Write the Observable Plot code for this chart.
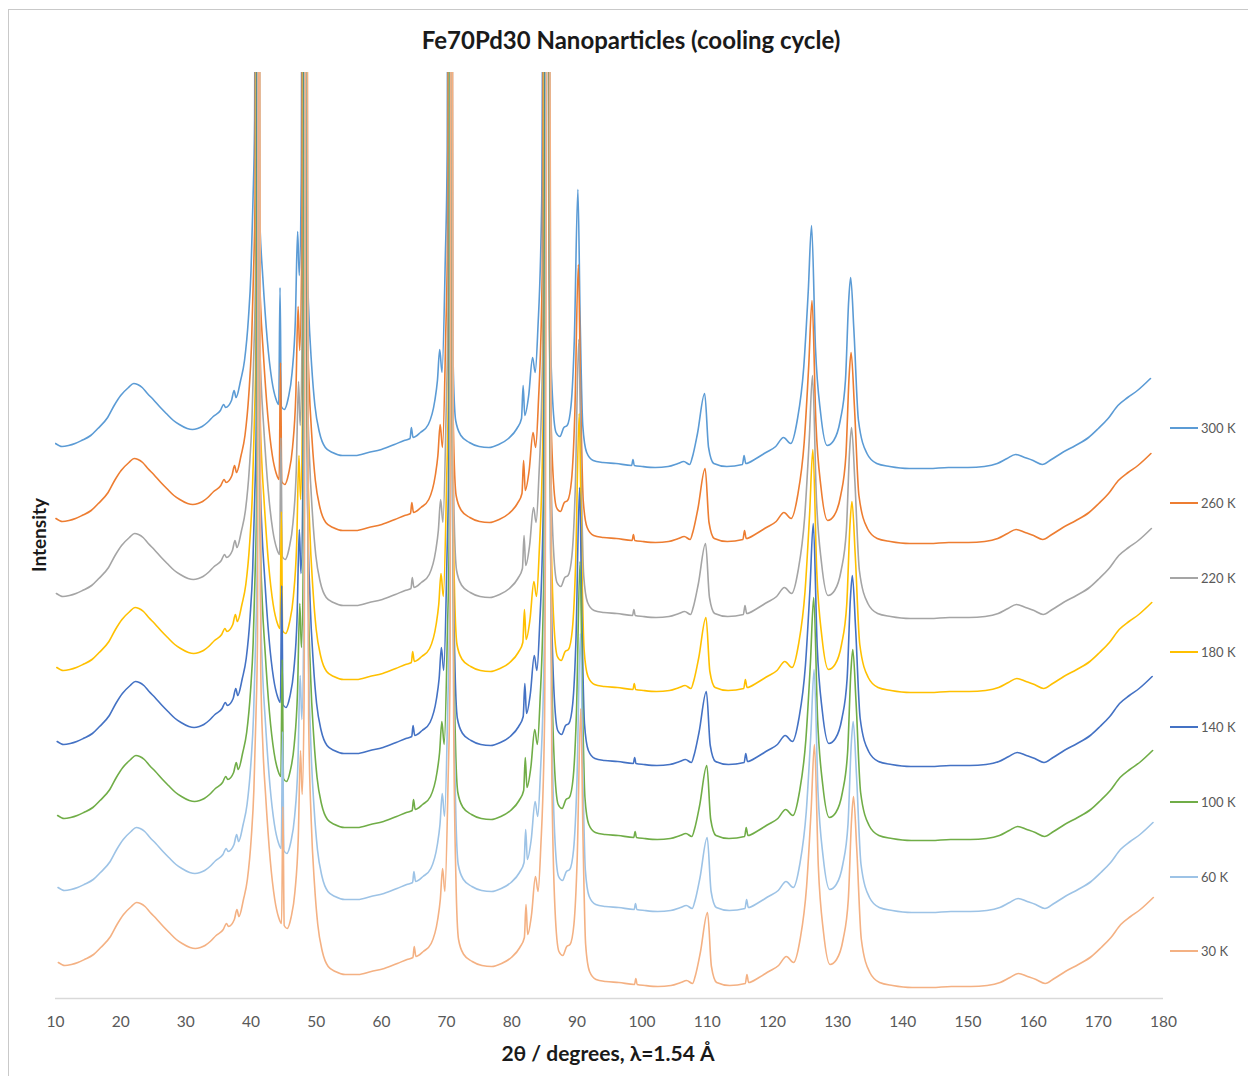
<!DOCTYPE html>
<html>
<head>
<meta charset="utf-8">
<script src="https://cdn.jsdelivr.net/npm/d3@7"></script>
<script src="https://cdn.jsdelivr.net/npm/@observablehq/plot@0.6"></script>
<style>
  html, body { margin: 0; padding: 0; background: #fff; }
  #wrap { position: relative; width: 1248px; height: 1076px; overflow: hidden; font-family: Lato, "Open Sans", sans-serif; }
  #frame { position: absolute; left: 8px; top: 9px; width: 1260px; height: 1100px; border-left: 1px solid #c9c9c9; border-top: 1px solid #c9c9c9; box-sizing: border-box; }
  #chart { position: absolute; left: 0; top: 0; }
  .lbl { position: absolute; transform: translate(-50%, -50%); white-space: nowrap; color: #1a1a1a; font-weight: 700; }
  #title { left: 631px; top: 39px; font-size: 24px; }
  #xtitle { left: 608px; top: 1052px; font-size: 21px; }
  #ytitle { left: 38px; top: 535px; font-size: 19px; transform: translate(-50%, -50%) rotate(-90deg); }
  .leg { position: absolute; left: 1170px; height: 16px; transform: translateY(-50%); display: flex; align-items: center; font-size: 13px; color: #595959; }
  .leg span.sw { display: inline-block; width: 28px; height: 2px; margin-right: 3px; }
</style>
</head>
<body>
<div id="wrap">
  <div id="frame"></div>
  <div id="chart"></div>
  <div id="title" class="lbl">Fe70Pd30 Nanoparticles (cooling cycle)</div>
  <div id="xtitle" class="lbl">2θ / degrees, λ=1.54 Å</div>
  <div id="ytitle" class="lbl">Intensity</div>
  <div id="legend"></div>
</div>
<script>
// Diffraction angle (2θ, degrees) sampled along the pattern
const twoTheta = [
  10, 11, 12, 13, 14, 15.4, 16.5, 18, 19, 20, 21.2, 22, 22.6, 23.3, 24.1, 25, 26.1, 27, 28.1, 29,
  30.2, 31, 31.8, 32.5, 33.3, 34.2, 35.3, 35.8, 36.1, 37, 37.4, 37.7, 38.4, 39, 39.6, 40.0, 40.3, 40.55, 40.8, 41.05,
  41.4, 41.8, 42.5, 43.2, 43.8, 44.25, 44.45, 44.65, 45.1, 45.7, 46.3, 46.8, 47.15, 47.4, 47.7, 48.05, 48.4, 48.8, 49.3, 49.8,
  50.5, 51.4, 52.5, 54, 56, 58, 60, 62, 63.5, 64.4, 64.6, 64.85, 66, 67.2, 68.2, 68.6, 68.95, 69.3, 69.8, 70.1,
  70.35, 70.65, 71.0, 71.4, 72.2, 73.5, 75, 76.5, 78, 79.5, 80.8, 81.5, 81.75, 82.0, 82.6, 83.2, 83.6, 84.0, 84.6, 85.2,
  85.7, 86.2, 86.8, 87.4, 88.0, 88.5, 89.1, 89.6, 90.15, 90.5, 90.9, 91.5, 92.5, 94, 96, 98.4, 98.6, 98.8, 100, 102,
  104, 105.5, 106.4, 107.3, 107.7, 108.5, 109.6, 110.2, 111, 113, 115.4, 115.65, 115.9, 117.5, 119, 120.5, 121.7, 122.8, 123.8, 124.8,
  125.5, 126.0, 126.6, 127.4, 128.4, 129.4, 130.4, 131.2, 131.7, 132.0, 132.5, 133.2, 134.5, 136, 138, 141, 144, 147, 150, 152.5,
  154.5, 156, 157.3, 158.7, 160, 161.4, 162.8, 164.5, 166.5, 168.5, 170, 171.5, 173, 174.5, 176, 178
];
// Intensity profile (a.u., lowest trace); main reflections run off scale
const profile = [
  36, 33, 34, 36, 39, 44, 51, 62, 74, 84, 92, 96, 95, 92, 86, 80, 72, 66, 59, 55,
  51, 50, 51, 53, 57, 63, 69, 75, 72, 79, 89, 82, 99, 119, 161, 209, 279, 359, 1500, 329,
  249, 203, 139, 99, 81, 75, 192, 73, 70, 81, 107, 159, 248, 204, 299, 1500, 279, 177, 114, 74,
  47, 32, 27, 24, 24, 27, 30, 35, 39, 41, 52, 42, 47, 55, 79, 99, 130, 107, 219, 329,
  1500, 279, 119, 59, 44, 37, 33, 32, 35, 41, 51, 61, 94, 64, 84, 122, 107, 149, 279, 1500,
  229, 89, 47, 43, 52, 54, 74, 139, 290, 159, 54, 27, 19, 17, 16, 14, 20, 14, 13, 12,
  13, 16, 18, 15, 22, 46, 86, 32, 16, 13, 15, 24, 16, 21, 27, 33, 42, 36, 59, 112,
  189, 254, 132, 66, 34, 39, 59, 99, 179, 202, 149, 59, 26, 16, 13, 11, 11, 12, 12, 13,
  16, 21, 25, 22, 19, 15, 20, 27, 34, 42, 51, 61, 74, 82, 89, 101
];
// Series (legend order)
const seriesNames   = ["300 K", "260 K", "220 K", "180 K", "140 K", "100 K", "60 K", "30 K"];
const seriesColors  = ["#5b9bd5", "#ed7d31", "#a5a5a5", "#ffc000", "#4472c4", "#70ad47", "#9dc3e6", "#f4b183"];
// Vertical stacking offset of each trace (a.u.)
const seriesOffsets = [519, 444, 369, 295, 221, 147, 75, 0];
// Peak position shift of each trace (degrees)
const seriesShifts  = [0, 0.07, 0.14, 0.2, 0.26, 0.33, 0.39, 0.44];
const xTicks = [10, 20, 30, 40, 50, 60, 70, 80, 90, 100, 110, 120, 130, 140, 150, 160, 170, 180];

const rows = [];
seriesNames.forEach((name, i) => {
  twoTheta.forEach((t, j) => {
    rows.push({series: name, angle: t + seriesShifts[i], intensity: profile[j] + seriesOffsets[i]});
  });
});

const chart = Plot.plot({
  width: 1248,
  height: 1076,
  marginLeft: 55,
  marginRight: 85,
  marginTop: 72,
  marginBottom: 78,
  style: {fontFamily: "Lato, 'Open Sans', sans-serif", fontSize: "15.5px", color: "#595959", background: "transparent", overflow: "visible"},
  x: {domain: [10, 180], ticks: xTicks, tickSize: 0, tickPadding: 17, label: null},
  y: {domain: [0, 926], axis: null},
  marks: [
    Plot.ruleY([0], {stroke: "#d9d9d9", strokeWidth: 1.5}),
    ...seriesNames.map((name, i) =>
      Plot.line(rows.filter(d => d.series === name), {
        x: "angle", y: "intensity", stroke: seriesColors[i], strokeWidth: 1.6, curve: "monotone-x", clip: true
      })
    )
  ]
});
document.getElementById("chart").appendChild(chart);

// Legend
const legendY = [428, 503, 578, 652, 727, 802, 877, 951];
const legend = document.getElementById("legend");
seriesNames.forEach((name, i) => {
  const div = document.createElement("div");
  div.className = "leg";
  div.style.top = legendY[i] + "px";
  div.innerHTML = `<span class="sw" style="background:${seriesColors[i]}"></span><span>${name}</span>`;
  legend.appendChild(div);
});
</script>
</body>
</html>
